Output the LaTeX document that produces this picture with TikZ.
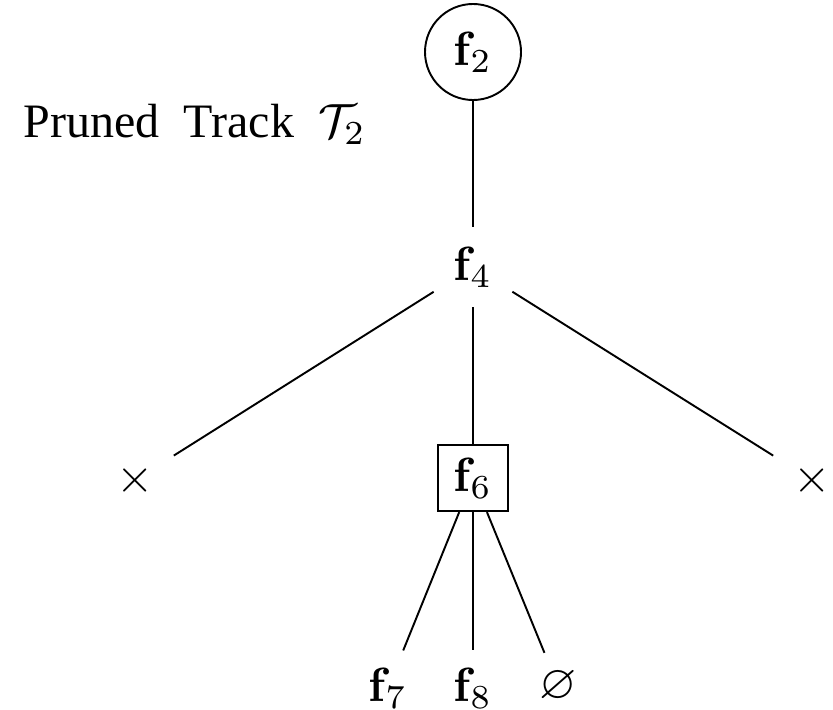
\documentclass[tikz,border=0pt]{standalone}
\usepackage{amssymb}
\usepackage[no-math]{fontspec}
\newfontfamily\timesfont[WordSpace=2]{Liberation Serif}
\begin{document}
\begin{tikzpicture}[x=0.2083pt,y=-0.2083pt,
  lbl/.style={inner sep=4pt},
  leaf/.style={inner sep=3.4pt},
  rootnode/.style={circle,draw,minimum size=20pt,inner sep=0pt},
  boxnode/.style={draw,minimum width=14.4pt,minimum height=13.8pt,inner sep=0pt},
  edge/.style={draw,line width=0.4pt}]
\useasboundingbox (0,0) rectangle (833,709);
\node[rootnode] (f2) at (473,52) {$\mathbf{f}_2$};
\node[anchor=base west,inner sep=0pt,font=\timesfont] (title) at (23,137) {Pruned Track $\mathcal{T}_2$};
\node[lbl] (f4) at (473,267) {$\mathbf{f}_4$};
\node[lbl] (xl) at (135,480) {$\times$};
\node[boxnode] (f6) at (473,478) {$\mathbf{f}_6$};
\node[lbl] (xr) at (812,480) {$\times$};
\node[leaf] (f7) at (388,688) {$\mathbf{f}_7$};
\node[leaf] (f8) at (473,688) {$\mathbf{f}_8$};
\node[leaf] (e) at (558,686) {$\varnothing$};
\path[edge] (f2) -- (f4);
\path[edge] (f4) -- (xl);
\path[edge] (f4) -- (f6);
\path[edge] (f4) -- (xr);
\path[edge] (f6) -- (f7);
\path[edge] (f6) -- (f8);
\path[edge] (f6) -- (e);
\end{tikzpicture}
\end{document}
